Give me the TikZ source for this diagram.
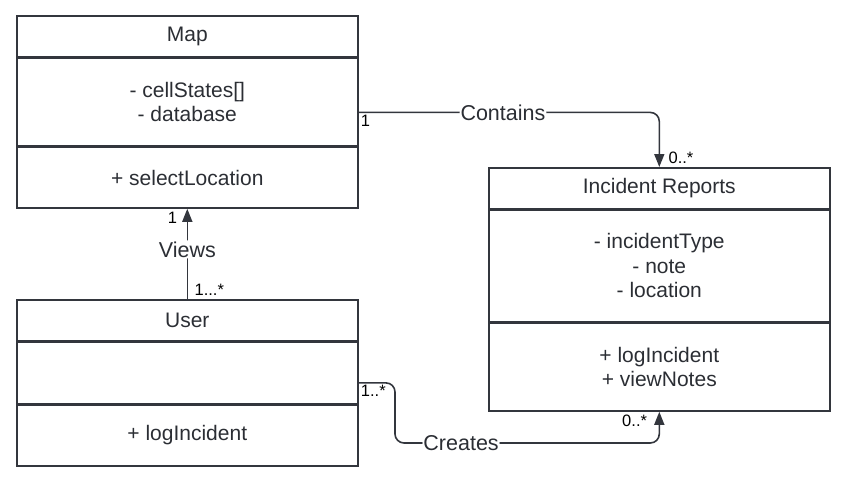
\documentclass[tikz,border=0pt]{standalone}
\usepackage{fontspec}
\setmainfont{Liberation Sans}
\usetikzlibrary{positioning}
\usetikzlibrary{arrows.meta}
\definecolor{umlline}{HTML}{33363D}
\definecolor{umltext}{HTML}{2B2E34}

\begin{document}
\begin{tikzpicture}[x=1pt,y=-1pt,
    part/.style={draw=umlline, line width=1.6pt, minimum width=341pt, inner sep=0pt,
        align=center, text=umltext, font=\fontsize{21}{24.5}\selectfont},
    mult/.style={text=black, font=\fontsize{16.5}{18}\selectfont, inner sep=1.5pt},
    assoc/.style={draw=umlline, line width=1.6pt, rounded corners=9pt,
        -{Triangle[length=13pt,width=10pt]}},
    lbl/.style={fill=white, text=umltext, inner sep=1pt, font=\fontsize{21.5}{24}\selectfont}]
  \useasboundingbox (0,0) rectangle (844,487);

  % Map
  \node[part, minimum height=41pt, anchor=north west] (mapHead) at (16,15) {Map};
  \node[part, minimum height=87pt, below=0pt of mapHead] (mapAttr) {- cellStates[]\\- database};
  \node[part, minimum height=61pt, below=0pt of mapAttr] (mapMeth) {+ selectLocation};

  % User
  \node[part, minimum height=41pt, anchor=north west] (userHead) at (16,299) {User};
  \node[part, minimum height=61pt, below=0pt of userHead] (userAttr) {};
  \node[part, minimum height=61pt, below=0pt of userAttr] (userMeth) {+ logIncident};

  % Incident Reports
  \node[part, minimum height=41pt, anchor=north west] (repHead) at (488,167) {Incident Reports};
  \node[part, minimum height=111pt, below=0pt of repHead] (repAttr) {- incidentType\\- note\\- location};
  \node[part, minimum height=88pt, below=0pt of repAttr] (repMeth) {+ logIncident\\+ viewNotes};

  % associations
  \draw[assoc] ([yshift=-10.5pt]mapAttr.east)
      node[mult, anchor=north west] {1}
      -| node[lbl, pos=0.24] {Contains} (repHead.north)
      node[mult, anchor=south west, xshift=7pt, yshift=1pt] {0..*};

  \draw[assoc] (userHead.north)
      node[mult, anchor=south west, xshift=5pt, yshift=1pt] {1...*}
      -- node[lbl, pos=0.55] {Views} (mapMeth.south)
      node[mult, anchor=north east, xshift=-8pt, yshift=-1pt] {1};

  \coordinate (createBend) at (395,443);
  \draw[assoc] ([yshift=-10pt]userAttr.east)
      node[mult, anchor=north west] {1..*}
      -- ([yshift=-10pt]userAttr.east -| createBend)
      |- node[lbl, pos=0.625] {Creates} (createBend -| repMeth.south)
      -- (repMeth.south)
      node[mult, anchor=north east, xshift=-10pt, yshift=-1pt] {0..*};
\end{tikzpicture}
\end{document}
